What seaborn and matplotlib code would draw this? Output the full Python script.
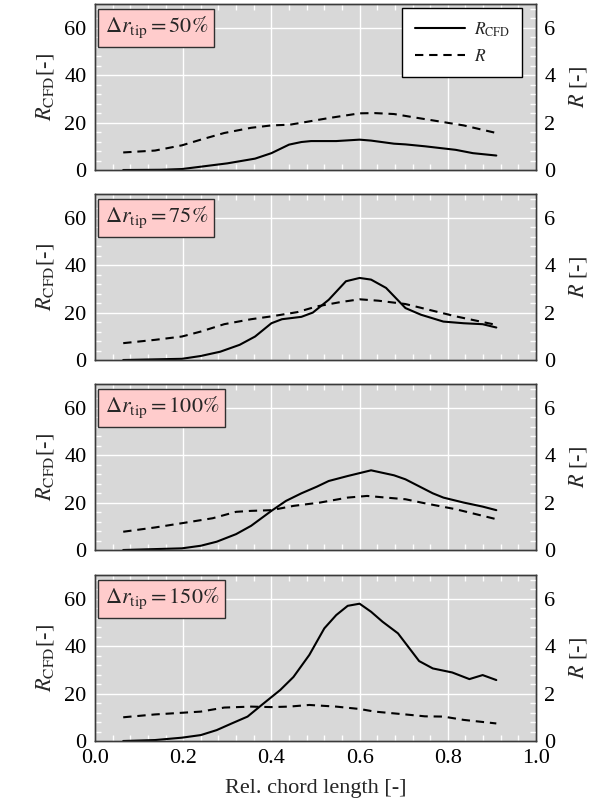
import matplotlib
matplotlib.use("Agg")
import matplotlib.pyplot as plt
import pandas as pd
import seaborn as sns
from matplotlib import font_manager
from matplotlib.ticker import MultipleLocator
from matplotlib.lines import Line2D

# Tip-gap variants shown in the four stacked panels
tip_labels = ["50", "75", "100", "150"]

# CFD-based criterion R_CFD (left axis) along relative chord length
x_cfd_50 = [0.064, 0.15, 0.197, 0.24, 0.30, 0.363, 0.40, 0.44, 0.468, 0.49, 0.547, 0.60, 0.626, 0.678, 0.704, 0.748, 0.818, 0.857, 0.91]
cfd_50 = [0.0, 0.1, 0.4, 1.4, 2.8, 4.8, 7.1, 10.7, 11.8, 12.2, 12.2, 12.8, 12.4, 11.1, 10.8, 10.0, 8.5, 7.1, 6.1]

x_cfd_75 = [0.064, 0.197, 0.24, 0.284, 0.328, 0.363, 0.40, 0.424, 0.468, 0.494, 0.53, 0.569, 0.60, 0.626, 0.66, 0.704, 0.739, 0.79, 0.836, 0.879, 0.91]
cfd_75 = [0.0, 0.5, 1.7, 3.5, 6.4, 9.9, 15.5, 17.2, 18.2, 20.0, 25.4, 33.2, 34.6, 33.9, 30.4, 21.9, 19.1, 16.2, 15.5, 15.1, 13.7]

x_cfd_100 = [0.064, 0.197, 0.24, 0.276, 0.32, 0.354, 0.40, 0.433, 0.468, 0.503, 0.53, 0.573, 0.626, 0.678, 0.704, 0.766, 0.79, 0.836, 0.879, 0.91]
cfd_100 = [0.0, 0.7, 1.8, 3.5, 6.7, 10.2, 16.5, 20.7, 23.9, 26.7, 29.1, 31.2, 33.6, 31.5, 29.8, 23.9, 22.1, 20.0, 18.3, 16.8]

x_cfd_150 = [0.064, 0.136, 0.197, 0.24, 0.276, 0.31, 0.346, 0.38, 0.42, 0.45, 0.486, 0.52, 0.547, 0.573, 0.60, 0.626, 0.652, 0.687, 0.735, 0.766, 0.81, 0.849, 0.879, 0.91]
cfd_150 = [0.0, 0.4, 1.4, 2.5, 4.6, 7.4, 10.3, 15.5, 21.5, 27.0, 36.3, 47.5, 53.1, 57.0, 57.9, 54.5, 50.3, 45.4, 33.7, 30.6, 28.9, 26.1, 27.8, 25.7]

# Model criterion R (right axis)
x_r_50 = [0.064, 0.136, 0.197, 0.24, 0.293, 0.354, 0.40, 0.442, 0.486, 0.53, 0.60, 0.634, 0.678, 0.73, 0.79, 0.836, 0.91]
r_50 = [0.74, 0.82, 1.04, 1.28, 1.56, 1.78, 1.88, 1.91, 2.05, 2.19, 2.39, 2.40, 2.36, 2.20, 2.02, 1.88, 1.56]

x_r_75 = [0.064, 0.136, 0.197, 0.24, 0.293, 0.354, 0.40, 0.459, 0.503, 0.556, 0.60, 0.643, 0.704, 0.748, 0.818, 0.91]
r_75 = [0.71, 0.85, 0.99, 1.20, 1.51, 1.72, 1.84, 2.02, 2.26, 2.44, 2.56, 2.50, 2.36, 2.16, 1.84, 1.48]

x_r_100 = [0.064, 0.136, 0.197, 0.267, 0.32, 0.354, 0.40, 0.45, 0.51, 0.573, 0.617, 0.66, 0.704, 0.748, 0.818, 0.91]
r_100 = [0.77, 0.95, 1.13, 1.34, 1.61, 1.65, 1.68, 1.86, 2.00, 2.21, 2.28, 2.21, 2.14, 1.97, 1.72, 1.30]

x_r_150 = [0.064, 0.136, 0.197, 0.24, 0.293, 0.354, 0.40, 0.44, 0.486, 0.547, 0.60, 0.634, 0.704, 0.748, 0.79, 0.836, 0.91]
r_150 = [1.00, 1.12, 1.19, 1.24, 1.41, 1.45, 1.43, 1.45, 1.52, 1.45, 1.35, 1.24, 1.12, 1.04, 1.03, 0.89, 0.74]

x_ticks = [0.0, 0.2, 0.4, 0.6, 0.8, 1.0]
left_ticks = [0, 20, 40, 60]
right_ticks = [0, 2, 4, 6]

cfd_series = [(x_cfd_50, cfd_50), (x_cfd_75, cfd_75), (x_cfd_100, cfd_100), (x_cfd_150, cfd_150)]
r_series = [(x_r_50, r_50), (x_r_75, r_75), (x_r_100, r_100), (x_r_150, r_150)]

sns.set_theme(style="darkgrid")

# Times-like serif text with matching STIX math
serif_names = {f.name for f in font_manager.fontManager.ttflist}
serif_pick = [n for n in ["Liberation Serif", "STIXGeneral", "DejaVu Serif"] if n in serif_names]
plt.rcParams["font.family"] = "serif"
plt.rcParams["font.serif"] = serif_pick
plt.rcParams["mathtext.fontset"] = "stix"

BG = "#d8d8d8"
SPINE = "#3a3a3a"
TICK_FS = 16
DASH = (0, (4.0, 2.8))

fig = plt.figure(figsize=(6.06, 8.11), dpi=100)
W, H = 606.0, 811.0
ax_left, ax_width = 95 / W, 441 / W
panel_tops = [4, 194, 384, 575]
panel_h = 166

for i, (tip, (xc, yc), (xr, yr)) in enumerate(zip(tip_labels, cfd_series, r_series)):
    top = panel_tops[i]
    ax = fig.add_axes([ax_left, 1 - (top + panel_h) / H, ax_width, panel_h / H])
    ax.set_facecolor(BG)
    ax2 = ax.twinx()

    sns.lineplot(x=xc, y=yc, ax=ax, color="black", lw=1.5, estimator=None, sort=False)
    sns.lineplot(x=xr, y=yr, ax=ax2, color="black", lw=1.5, estimator=None, sort=False,
                 linestyle=DASH)

    ax.set_xlim(0, 1)
    ax.set_ylim(0, 70)
    ax2.set_ylim(0, 7)
    ax.set_xticks(x_ticks)
    ax.set_yticks(left_ticks)
    ax2.set_yticks(right_ticks)
    ax.xaxis.set_minor_locator(MultipleLocator(0.04))
    ax.yaxis.set_minor_locator(MultipleLocator(4))
    ax2.yaxis.set_minor_locator(MultipleLocator(0.4))

    ax.grid(True, which="major", color="white", lw=1.0)
    ax.grid(False, which="minor")
    ax2.grid(False)

    for a in (ax, ax2):
        for s in a.spines.values():
            s.set_visible(True)
            s.set_color(SPINE)
            s.set_linewidth(1.0)

    ax.tick_params(axis="both", which="both", direction="in", colors="white",
                   labelcolor="black", labelsize=TICK_FS, top=True, bottom=True,
                   left=True, right=False, pad=6)
    ax.tick_params(which="major", length=0)
    ax.tick_params(which="minor", length=4.5, width=1.0)
    ax2.tick_params(axis="y", which="both", direction="in", colors="white",
                    labelcolor="black", labelsize=TICK_FS, right=True, pad=6)
    ax2.tick_params(which="major", length=0)
    ax2.tick_params(which="minor", length=4.5, width=1.0)

    ax.set_ylabel(r"$R_\mathrm{CFD}$[-]", fontsize=TICK_FS, labelpad=6)
    ax2.set_ylabel(r"$R$ [-]", fontsize=TICK_FS, labelpad=8)

    if i < 3:
        ax.set_xticklabels([])
        ax.set_xlabel("")
    else:
        ax.set_xticklabels([f"{t:.1f}" for t in x_ticks])
        ax.set_xlabel("Rel. chord length [-]", fontsize=TICK_FS, labelpad=8)

    ax.text(0.022, 0.858, r"$\Delta r_\mathrm{tip} = %s\%%$" % tip, transform=ax.transAxes,
            ha="left", va="center", fontsize=TICK_FS, zorder=5,
            bbox=dict(boxstyle="square,pad=0.28", facecolor="#ffcccc",
                      edgecolor="#303030", linewidth=1.0))

    if i == 0:
        handles = [Line2D([], [], color="black", lw=1.5),
                   Line2D([], [], color="black", lw=1.5, linestyle=DASH)]
        leg = ax2.legend(handles, [r"$R_\mathrm{CFD}$", r"$R$"], loc="upper right",
                         bbox_to_anchor=(0.968, 0.976), borderaxespad=0,
                         fontsize=12.5, frameon=True, fancybox=False, framealpha=1,
                         edgecolor="black", facecolor="white", handlelength=2.9,
                         handletextpad=0.5, labelspacing=0.6, borderpad=0.7)
        leg.get_frame().set_linewidth(1.0)
    else:
        if ax2.get_legend() is not None:
            ax2.get_legend().remove()
    if ax.get_legend() is not None:
        ax.get_legend().remove()

fig.savefig("out.png", dpi=100)
